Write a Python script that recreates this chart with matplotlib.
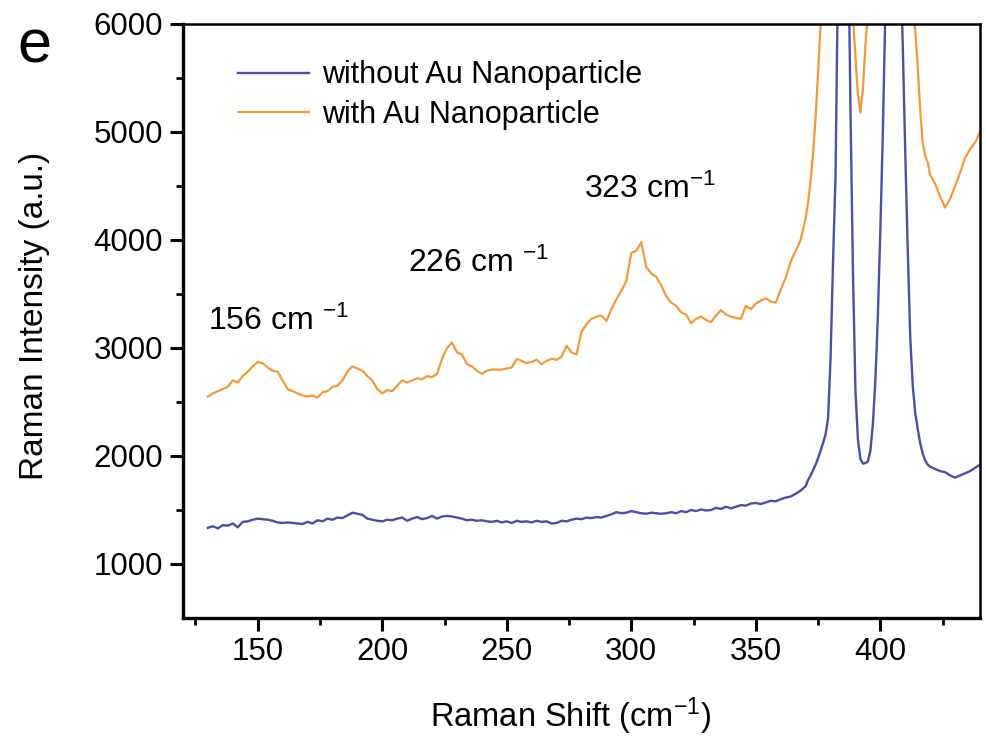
import matplotlib
matplotlib.use("Agg")
import matplotlib.pyplot as plt
import numpy as np

plt.rcParams['font.family'] = ['Liberation Sans', 'DejaVu Sans']
plt.rcParams['mathtext.default'] = 'regular'

# Raman shift grid (cm^-1): 2 cm^-1 steps, 1 cm^-1 steps across the strong modes
shift_low = list(range(130, 371, 2))
shift_mid = list(range(371, 421, 1))
shift_high = list(range(422, 441, 2))
shift = shift_low + shift_mid + shift_high

# Spectrum without Au nanoparticles
without_au = [
    1335, 1350, 1330, 1360, 1355, 1375, 1340, 1390, 1395, 1410,
    1420, 1415, 1410, 1400, 1385, 1380, 1385, 1380, 1375, 1370,
    1390, 1375, 1405, 1395, 1420, 1410, 1430, 1425, 1450, 1475,
    1465, 1455, 1420, 1410, 1400, 1395, 1410, 1405, 1420, 1430,
    1400, 1420, 1435, 1415, 1425, 1445, 1420, 1440, 1445, 1440,
    1430, 1420, 1405, 1410, 1400, 1405, 1395, 1390, 1400, 1385,
    1395, 1380, 1400, 1390, 1395, 1385, 1400, 1390, 1395, 1375,
    1380, 1400, 1395, 1410, 1420, 1415, 1430, 1425, 1435, 1430,
    1445, 1460, 1480, 1470, 1475, 1490, 1480, 1470, 1465, 1475,
    1470, 1465, 1470, 1480, 1470, 1490, 1480, 1500, 1490, 1505,
    1495, 1500, 1520, 1510, 1530, 1515, 1530, 1545, 1540, 1560,
    1565, 1555, 1570, 1585, 1580, 1600, 1615, 1625, 1650, 1680,
    1720,
    1780, 1820, 1870, 1920, 1980, 2050, 2120, 2200, 2350, 2900,
    3800, 4600, 6500, 8500, 9000, 8500, 7000, 5200, 3700, 2600,
    2150, 1970, 1930, 1935, 1950, 2050, 2300, 2700, 3300, 4100,
    5000, 6100, 7500, 8600, 9000, 8800, 7800, 6600, 5800, 4800,
    3900, 3100, 2650, 2400, 2250, 2120, 2020, 1960, 1920, 1900,
    1880, 1860, 1850, 1820, 1800, 1820, 1840, 1860, 1890, 1920,
]

# Spectrum with Au nanoparticles
with_au = [
    2550, 2580, 2600, 2620, 2640, 2700, 2680, 2740, 2780, 2830,
    2870, 2860, 2820, 2790, 2780, 2700, 2620, 2600, 2580, 2560,
    2550, 2560, 2540, 2590, 2600, 2640, 2650, 2700, 2780, 2830,
    2810, 2790, 2740, 2700, 2620, 2580, 2610, 2600, 2650, 2700,
    2680, 2700, 2720, 2710, 2740, 2730, 2760, 2900, 3000, 3050,
    2960, 2940, 2850, 2830, 2790, 2760, 2790, 2800, 2800, 2800,
    2810, 2820, 2900, 2880, 2860, 2870, 2890, 2850, 2880, 2900,
    2890, 2920, 3020, 2960, 2940, 3150, 3220, 3270, 3290, 3300,
    3250, 3360, 3450, 3530, 3620, 3880, 3900, 3980, 3750, 3690,
    3660, 3580, 3480, 3420, 3390, 3330, 3310, 3230, 3270, 3290,
    3260, 3240, 3300, 3350, 3310, 3290, 3280, 3270, 3390, 3360,
    3410, 3440, 3460, 3430, 3420, 3540, 3650, 3800, 3900, 4000,
    4200,
    4350, 4550, 4800, 5150, 5550, 6000, 6500, 7000, 7500, 8000,
    8500, 9000, 9200, 9000, 8400, 7600, 6800, 6300, 6050, 5700,
    5350, 5180, 5400, 5800, 6100, 6700, 7400, 8100, 8700, 9200,
    9600, 9800, 9900, 9800, 9500, 9000, 8400, 7800, 7200, 6800,
    6500, 6250, 6050, 5950, 5600, 5200, 4900, 4780, 4720, 4600,
    4520, 4400, 4300, 4380, 4500, 4620, 4760, 4840, 4900, 5000,
]

series_labels = ["without Au Nanoparticle", "with Au Nanoparticle"]
peak_labels = ["156", "226", "323"]
peak_label_pos = [(130, 3250), (210.5, 3780), (281, 4470)]

blue = "#4a4ea8"
orange = "#f29a3a"

fig = plt.figure(figsize=(9.87, 7.38), dpi=100)
ax = fig.add_axes([0.1854, 0.1626, 0.8075, 0.8049])

ax.plot(shift, without_au, color=blue, lw=1.7, label=series_labels[0])
ax.plot(shift, with_au, color=orange, lw=1.6, label=series_labels[1])

ax.set_xlim(120, 440)
ax.set_ylim(500, 6000)
ax.set_xticks([150, 200, 250, 300, 350, 400])
ax.set_xticks(np.arange(125, 440, 50), minor=True)
ax.set_yticks([1000, 2000, 3000, 4000, 5000, 6000])
ax.set_yticks(np.arange(1500, 6000, 1000), minor=True)

ax.tick_params(axis='both', which='major', direction='out', length=9.5,
               width=2.2, labelsize=22.5, pad=4)
ax.tick_params(axis='y', which='major', pad=5)
ax.tick_params(axis='both', which='minor', direction='out', length=5,
               width=2.0)
ax.tick_params(top=False, right=False, which='both')
for side, sp in ax.spines.items():
    sp.set_linewidth(2.4 if side in ('left', 'bottom') else 1.8)

ax.set_xlabel("Raman Shift (cm$^{-1}$)", fontsize=23.5)
ax.set_ylabel("Raman Intensity (a.u.)", fontsize=24)
ax.xaxis.set_label_coords(0.486, -0.13)
ax.yaxis.set_label_coords(-0.167, 0.508)

# Peak annotations
ax.text(peak_label_pos[0][0], peak_label_pos[0][1],
        peak_labels[0] + " cm $^{-1}$", fontsize=23, va='center', ha='left')
ax.text(peak_label_pos[1][0], peak_label_pos[1][1],
        peak_labels[1] + " cm $^{-1}$", fontsize=23, va='center', ha='left')
ax.text(peak_label_pos[2][0], peak_label_pos[2][1],
        peak_labels[2] + " cm$^{-1}$", fontsize=23, va='center', ha='left')

ax.legend(loc='upper left', bbox_to_anchor=(0.035, 0.985), frameon=False,
          fontsize=22, handlelength=2.3, handletextpad=0.45, labelspacing=0.3)

fig.text(0.018, 0.975, "e", fontsize=44, va='top', ha='left')

fig.savefig("out.png", dpi=100)
